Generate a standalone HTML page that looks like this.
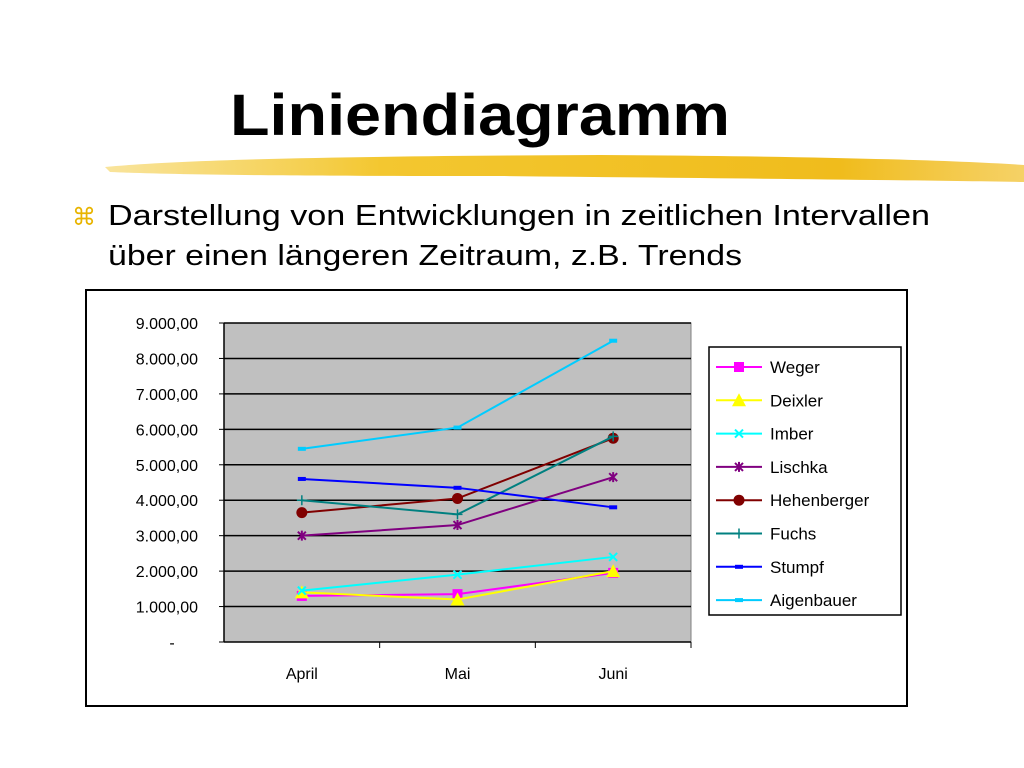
<!DOCTYPE html>
<html><head><meta charset="utf-8"><style>
html,body{margin:0;padding:0;background:#fff;}
svg{display:block;font-family:"Liberation Sans",sans-serif;}
</style></head><body>
<svg id="slide" width="1024" height="768" viewBox="0 0 1024 768">
<defs>
<linearGradient id="hl" x1="0" x2="1" y1="0" y2="0">
<stop offset="0" stop-color="#f5d25a" stop-opacity="0.6"/>
<stop offset="0.3" stop-color="#f3c730"/>
<stop offset="0.8" stop-color="#f0bc1c"/>
<stop offset="1" stop-color="#f3c640" stop-opacity="0.8"/>
</linearGradient>
</defs>
<text x="230" y="135" font-size="58" font-weight="bold" textLength="500" lengthAdjust="spacingAndGlyphs">Liniendiagramm</text>
<path d="M105 167 C200 158 400 156 600 155 C800 156 950 160 1024 165 L1024 182 C900 180 700 178 500 176 C300 176 180 175 110 172 Z" fill="url(#hl)"/>
<text x="72" y="225" font-size="24" fill="#e8b400">⌘</text>
<text x="108" y="225" font-size="29" textLength="822" lengthAdjust="spacingAndGlyphs">Darstellung von Entwicklungen in zeitlichen Intervallen</text>
<text x="108" y="265" font-size="29" textLength="634" lengthAdjust="spacingAndGlyphs">über einen längeren Zeitraum, z.B. Trends</text>
<rect x="86" y="290" width="821" height="416" fill="#fff" stroke="#000" stroke-width="2"/>
<g id="chart"></g>
</svg>
<script>
const categories = ["April","Mai","Juni"];
const seriesNames = ["Weger","Deixler","Imber","Lischka","Hehenberger","Fuchs","Stumpf","Aigenbauer"];
const weger = [1300,1350,1950];
const deixler = [1400,1200,2000];
const imber = [1450,1900,2400];
const lischka = [3000,3300,4650];
const hehenberger = [3650,4050,5750];
const fuchs = [4000,3600,5800];
const stumpf = [4600,4350,3800];
const aigenbauer = [5450,6050,8500];
const yTicks = [0,1000,2000,3000,4000,5000,6000,7000,8000,9000];
const yTickLabels = ["-","1.000,00","2.000,00","3.000,00","4.000,00","5.000,00","6.000,00","7.000,00","8.000,00","9.000,00"];

const NS="http://www.w3.org/2000/svg";
const g=document.getElementById('chart');
const X0=224,X1=691,Y0=642,Y1=323,YMAX=9000;
const bw=(X1-X0)/categories.length;
const xS=i=>X0+bw*(i+0.5);
const yS=v=>Y0-(v/YMAX)*(Y0-Y1);
function mk(t,a,p){const e=document.createElementNS(NS,t);for(const k in a)e.setAttribute(k,a[k]);(p||g).appendChild(e);return e;}

const bg=mk('rect',{x:X0,y:Y1,width:X1-X0,height:Y0-Y1,fill:'#c0c0c0',stroke:'#808080'});


yTicks.forEach((v,i)=>{
  const y=yS(v);
  if(v>0){const l=mk('line',{x1:X0,x2:X1,y1:y,y2:y,stroke:'#000','stroke-width':1.5});
  
  }
  mk('line',{x1:X0-5,x2:X0,y1:y,y2:y,stroke:'#000'});
  const t=mk('text',{x:v===0?172:198,y:y+6,'font-size':16,'text-anchor':v===0?'middle':'end'});
  t.textContent=yTickLabels[i];
  
  
});
mk('line',{x1:X0,x2:X0,y1:Y1,y2:Y0,stroke:'#000','stroke-width':1.5});
mk('line',{x1:X0,x2:X1,y1:Y0,y2:Y0,stroke:'#000','stroke-width':1.5});
categories.forEach((c,i)=>{
  mk('line',{x1:X0+bw*(i+1),x2:X0+bw*(i+1),y1:Y0,y2:Y0+6,stroke:'#000'});
  const t=mk('text',{x:xS(i),y:679,'font-size':16,'text-anchor':'middle'});
  t.textContent=c;
  
  
});
const allData=[weger,deixler,imber,lischka,hehenberger,fuchs,stumpf,aigenbauer];
const colors=['#ff00ff','#ffff00','#00ffff','#800080','#800000','#008080','#0000ff','#00ccff'];
const markers=['square','triangle','x','star','circle','plus','dash','dash'];
function marker(type,x,y,c,p){
  const s=5;
  if(type==='square')mk('rect',{x:x-s,y:y-s,width:2*s,height:2*s,fill:c},p);
  else if(type==='triangle')mk('polygon',{points:`${x},${y-7} ${x-7},${y+6} ${x+7},${y+6}`,fill:c},p);
  else if(type==='circle')mk('circle',{cx:x,cy:y,r:5.5,fill:c},p);
  else if(type==='x')mk('path',{d:`M${x-4} ${y-4}L${x+4} ${y+4}M${x-4} ${y+4}L${x+4} ${y-4}`,stroke:c,'stroke-width':2},p);
  else if(type==='star')mk('path',{d:`M${x-4} ${y-4}L${x+4} ${y+4}M${x-4} ${y+4}L${x+4} ${y-4}M${x} ${y-5}L${x} ${y+5}`,stroke:c,'stroke-width':2},p);
  else if(type==='plus')mk('path',{d:`M${x-5} ${y}L${x+5} ${y}M${x} ${y-5}L${x} ${y+5}`,stroke:c,'stroke-width':1.5},p);
  else mk('rect',{x:x-4,y:y-2,width:8,height:4,fill:c},p);
}
allData.forEach((d,si)=>{
  const sg=mk('g',{});
  
  
  mk('polyline',{points:d.map((v,i)=>xS(i)+','+yS(v)).join(' '),fill:'none',stroke:colors[si],'stroke-width':2},sg);
  d.forEach((v,i)=>marker(markers[si],xS(i),yS(v),colors[si],sg));
});
const lg=mk('g',{});


mk('rect',{x:709,y:347,width:192,height:268,fill:'#fff',stroke:'#000','stroke-width':1.5},lg);
seriesNames.forEach((n,i)=>{
  const y=367+i*33.3;
  const eg=mk('g',{},lg);
  
  
  mk('line',{x1:716,x2:762,y1:y,y2:y,stroke:colors[i],'stroke-width':2},eg);
  marker(markers[i],739,y,colors[i],eg);
  const t=mk('text',{x:770,y:y+6,'font-size':17},eg);
  t.textContent=n;
});
</script>
</body></html>
